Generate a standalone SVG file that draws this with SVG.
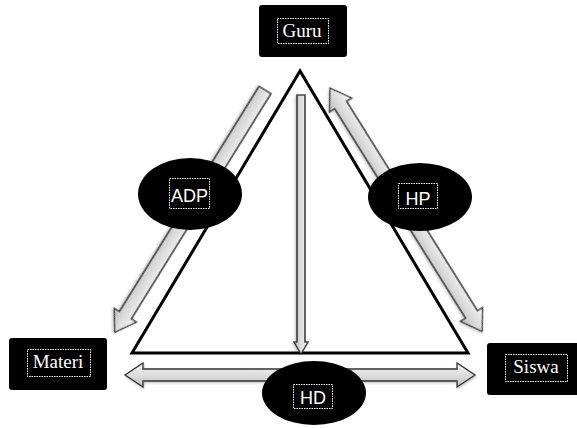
<svg xmlns="http://www.w3.org/2000/svg" width="577" height="428" viewBox="0 0 577 428">
  <defs>
    <linearGradient id="shaftFill" x1="0" y1="0" x2="0" y2="1">
      <stop offset="0" stop-color="#f6f6f6"/>
      <stop offset="0.5" stop-color="#dedede"/>
      <stop offset="1" stop-color="#bcbcbc"/>
    </linearGradient>
    <filter id="soft" x="-10%" y="-20%" width="120%" height="140%">
      <feDropShadow dx="1" dy="1.5" stdDeviation="1.2" flood-color="#000" flood-opacity="0.2"/>
    </filter>
    <style>
      .box { fill: #000; }
      .oval { fill: #000; }
      .frame { fill: none; stroke: #fff; stroke-width: 1; stroke-dasharray: 1.5 1; }
      .serif { font-family: "Liberation Serif", "Times New Roman", serif; font-size: 19px; fill: #fff; text-anchor: middle; }
      .sans { font-family: "Liberation Sans", Arial, sans-serif; font-size: 18px; fill: #fff; text-anchor: middle; }
      .arrow { fill: url(#shaftFill); stroke: #333; stroke-width: 1.3; stroke-linejoin: miter; filter: url(#soft); }
      .tri { fill: none; stroke: #000; stroke-width: 3; stroke-linejoin: miter; }
    </style>
  </defs>

  <!-- triangle and connectors -->
  <g id="connectors">
    <polygon class="tri" points="300,71 132,353 468,353"/>
    <!-- Guru to Materi -->
    <polygon class="arrow" transform="translate(265,90) rotate(121.8)"
             points="0,-7 265,-7 265,-13 285,0 265,13 265,7 0,7"/>
    <!-- Guru to Siswa (two-way) -->
    <polygon class="arrow" transform="translate(330,88) rotate(58)"
             points="0,0 20,-13 20,-7 267,-7 267,-13 287,0 267,13 267,7 20,7 20,13"/>
    <!-- Guru down to the base -->
    <polygon class="arrow" transform="translate(301,95) rotate(90)"
             points="0,-4 247,-4 247,-7 259,0 247,7 247,4 0,4"/>
    <!-- Materi to Siswa (two-way) -->
    <polygon class="arrow" transform="translate(125,375)"
             points="0,0 18,-12 18,-6 332,-6 332,-12 350,0 332,12 332,6 18,6 18,12"/>
  </g>

  <g id="guru">
    <rect class="box" x="259" y="5" width="88" height="52" rx="3"/>
    <rect class="frame" x="277.5" y="18.5" width="51" height="25"/>
    <text class="serif" x="302" y="37">Guru</text>
  </g>

  <g id="materi">
    <rect class="box" x="9" y="338" width="98" height="52" rx="3"/>
    <rect class="frame" x="27.5" y="349.5" width="63" height="27"/>
    <text class="serif" x="58" y="368">Materi</text>
  </g>

  <g id="siswa">
    <rect class="box" x="487" y="343" width="98" height="52" rx="3"/>
    <rect class="frame" x="505.5" y="354.5" width="62" height="27"/>
    <text class="serif" x="536" y="373">Siswa</text>
  </g>

  <g id="adp">
    <ellipse class="oval" cx="190" cy="194" rx="52" ry="36"/>
    <rect class="frame" x="169.5" y="178.5" width="40" height="30"/>
    <text class="sans" x="189.5" y="202">ADP</text>
  </g>

  <g id="hp">
    <ellipse class="oval" cx="420" cy="197" rx="52" ry="34"/>
    <rect class="frame" x="398.5" y="183.5" width="39" height="25"/>
    <text class="sans" x="418" y="205">HP</text>
  </g>

  <g id="hd">
    <ellipse class="oval" cx="314" cy="393" rx="52" ry="32"/>
    <rect class="frame" x="293.5" y="384.5" width="39" height="24"/>
    <text class="sans" x="313" y="404">HD</text>
  </g>
</svg>
